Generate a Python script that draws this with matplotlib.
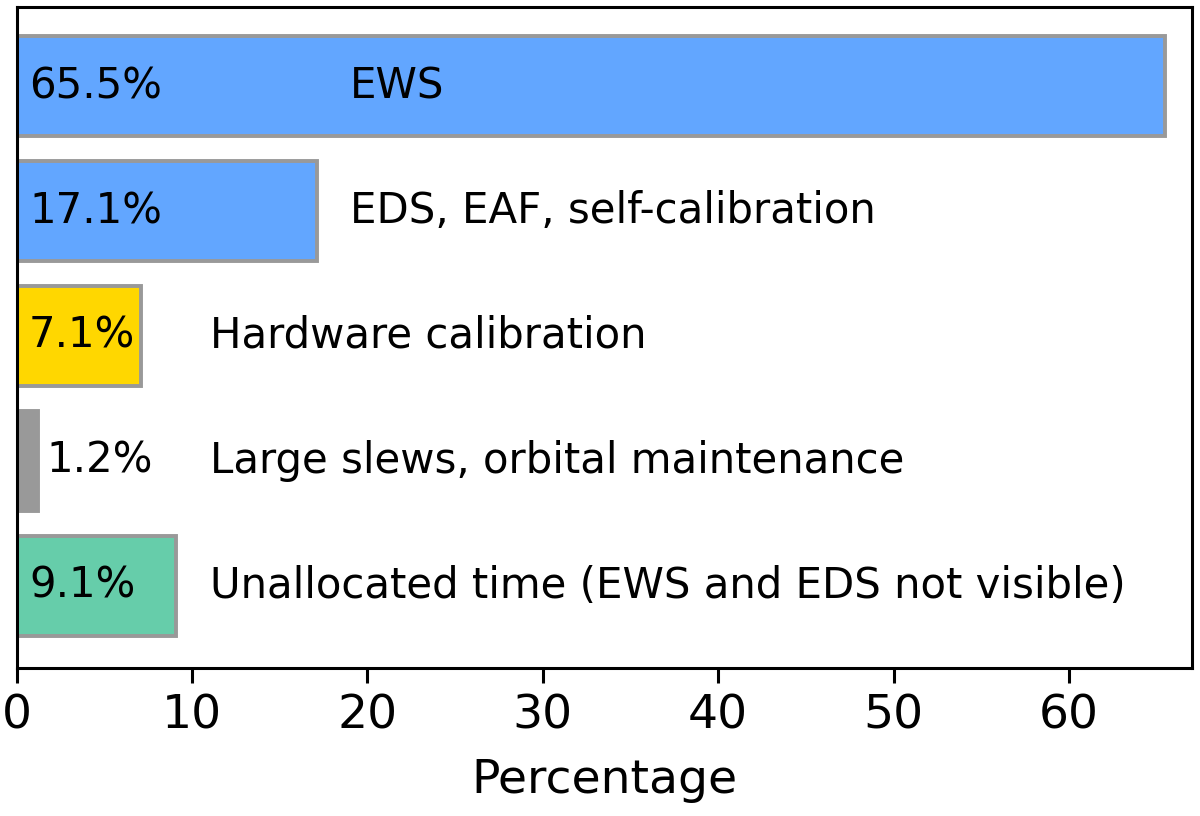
import matplotlib
matplotlib.use("Agg")
import matplotlib.pyplot as plt

# data, top to bottom
labels = ["EWS", "EDS, EAF, self-calibration", "Hardware calibration",
          "Large slews, orbital maintenance",
          "Unallocated time (EWS and EDS not visible)"]
values = [65.5, 17.1, 7.1, 1.2, 9.1]
colors = ["#62a6ff", "#62a6ff", "#ffd700", "#999999", "#66cdaa"]
label_x = [19, 19, 11, 11, 11]

fig = plt.figure(figsize=(6, 4.08), dpi=200)
ax = fig.add_axes([0.014, 0.181, 0.979, 0.81])

ypos = list(range(len(values)))[::-1]
ax.barh(ypos, values, height=0.8, color=colors, edgecolor="#999999", linewidth=1.4)

for y, v, lab, lx in zip(ypos, values, labels, label_x):
    px = 0.7 if v > 5 else v + 0.5
    ax.text(px, y, "%.1f%%" % v, va="center", ha="left", fontsize=15.1)
    ax.text(lx, y, lab, va="center", ha="left", fontsize=15.1)

ax.set_xlim(0, 67)
ax.set_ylim(-0.66, 4.63)
ax.set_yticks([])
ax.set_xticks(range(0, 70, 10))
ax.tick_params(axis="x", labelsize=17, length=5.5, width=1.1)
for s in ax.spines.values():
    s.set_linewidth(1.1)
ax.set_xlabel("Percentage", fontsize=17, labelpad=7)

plt.savefig("out.png")
